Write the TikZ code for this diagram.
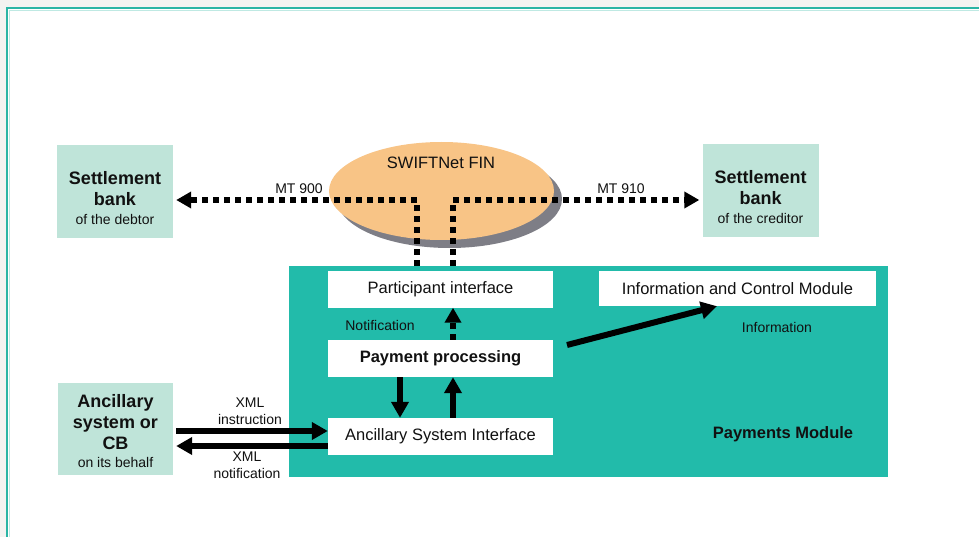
\documentclass[tikz,border=0pt]{standalone}
\usepackage{fontspec}
\setmainfont{Liberation Sans}
\usetikzlibrary{arrows.meta,shapes.geometric,calc}
\definecolor{teal1}{HTML}{22BBAA}
\definecolor{tealline}{HTML}{2AB5A5}
\definecolor{tealpale}{HTML}{BFE9E3}
\definecolor{mint}{HTML}{BFE4D9}
\definecolor{orng}{HTML}{F8C486}
\definecolor{shad}{HTML}{7E7E86}
\definecolor{bgray}{HTML}{F3F3F1}
\definecolor{txt}{HTML}{111111}
\begin{document}
\begin{tikzpicture}[x=1pt,y=-1pt,
  whitebox/.style={fill=white, inner sep=0pt, minimum width=225pt, minimum height=37pt, text=txt, font=\fontsize{16.5}{19}\selectfont},
  mintbox/.style={fill=mint, inner sep=0pt, minimum width=116pt, minimum height=93pt},
  bigtxt/.style={font=\fontsize{18}{21}\selectfont\bfseries, align=center, text=txt, inner sep=0pt},
  smalltxt/.style={font=\fontsize{14}{17}\selectfont, align=center, text=txt, inner sep=0pt},
  midtxt/.style={font=\fontsize{16.5}{19}\selectfont, text=txt, inner sep=0pt},
  dotline/.style={line width=6pt, dash pattern=on 6pt off 5pt, -{Triangle[length=15pt,width=16pt]}},
  fat/.style={line width=6pt, -{Triangle[length=16pt,width=17pt]}},
]
\useasboundingbox (0,0) rectangle (979,537);
% frame
\fill[bgray] (0,0) rectangle (979,537);
\fill[white] (7,8) rectangle (979,537);
\draw[tealpale, line width=1pt] (9.5,537) -- (9.5,10.5) -- (979,10.5);
\draw[tealline, line width=2pt] (7,537) -- (7,8) -- (979,8);

% settlement banks
\node[mintbox] (sbd) at (115,191.5) {};
\node[bigtxt] (sbdT) at (115,198) {Settlement\\bank\\[-2pt]{\fontsize{14}{17}\selectfont\mdseries of the debtor}};
\node[mintbox] (sbc) at (760.5,190.5) {};
\node[bigtxt] (sbcT) at (760.5,197) {Settlement\\bank\\[-2pt]{\fontsize{14}{17}\selectfont\mdseries of the creditor}};

% ancillary system
\node[mintbox, minimum height=92pt, minimum width=115pt] (anc) at (115.5,429) {};
\node[bigtxt] (ancT) at (115.5,431) {Ancillary\\system or\\CB\\[-3pt]{\fontsize{14}{17}\selectfont\mdseries on its behalf}};

% payments module
\node[fill=teal1, inner sep=0pt, minimum width=599pt, minimum height=211pt] (pm) at (588.5,371.5) {};
\node[bigtxt, font=\fontsize{16.5}{19}\selectfont\bfseries] (pmT) at (783,434) {Payments Module};

% SWIFTNet ellipse
\node[ellipse, fill=shad, inner sep=0pt, minimum width=225pt, minimum height=98pt] (swsh) at (449.5,199) {};
\node[ellipse, fill=orng, inner sep=0pt, minimum width=225pt, minimum height=98pt] (sw) at (441.5,191) {};

% white boxes
\node[whitebox] (pi) at (440.5,289) {Participant interface};
\node[whitebox, font=\fontsize{16.5}{19}\selectfont\bfseries] (pp) at (440.5,358.5) {Payment processing};
\node[whitebox] (asi) at (440.5,436.5) {Ancillary System Interface};
\node[whitebox, minimum width=277pt, minimum height=35pt] (icm) at (737.5,288.5) {Information and Control Module};

% coordinates
\coordinate (xl) at (417,0);
\coordinate (xr) at (453,0);
\coordinate (xd) at (400,0);
\coordinate (yd) at (0,200);
\coordinate (yi) at (0,431);
\coordinate (yn) at (0,446);
\coordinate (ppx) at (567,345);
\coordinate (icmx) at (717,0);

% dotted connectors
\draw[dotline] (pm.north -| xl) |- ($(sbd.east |- yd)+(3,0)$);
\draw[dotline] (pm.north -| xr) |- ($(sbc.west |- yd)+(-3,0)$);
\draw[dotline] (pp.north -| xr) -- (pi.south -| xr);

% text on ellipse and labels
\node[midtxt] (swT) at (441,163) {SWIFTNet FIN};
\node[smalltxt] (mt900) at (299,189) {MT 900};
\node[smalltxt] (mt910) at (621,189) {MT 910};
\node[smalltxt] (notif) at (380,325) {Notification};
\node[smalltxt] (info) at (777,327) {Information};

% fat arrows
\draw[fat] (pp.south -| xd) -- (asi.north -| xd);
\draw[fat] (asi.north -| xr) -- (pp.south -| xr);
\draw[fat] ($(anc.east |- yi)+(3,0)$) -- (asi.west |- yi);
\draw[fat] (asi.west |- yn) -- ($(anc.east |- yn)+(3,0)$);
\draw[fat] (ppx) -- (icm.south -| icmx);

\node[smalltxt] (xmlI) at (250,411) {XML\\instruction};
\node[smalltxt] (xmlN) at (247,465) {XML\\notification};
\end{tikzpicture}
\end{document}
